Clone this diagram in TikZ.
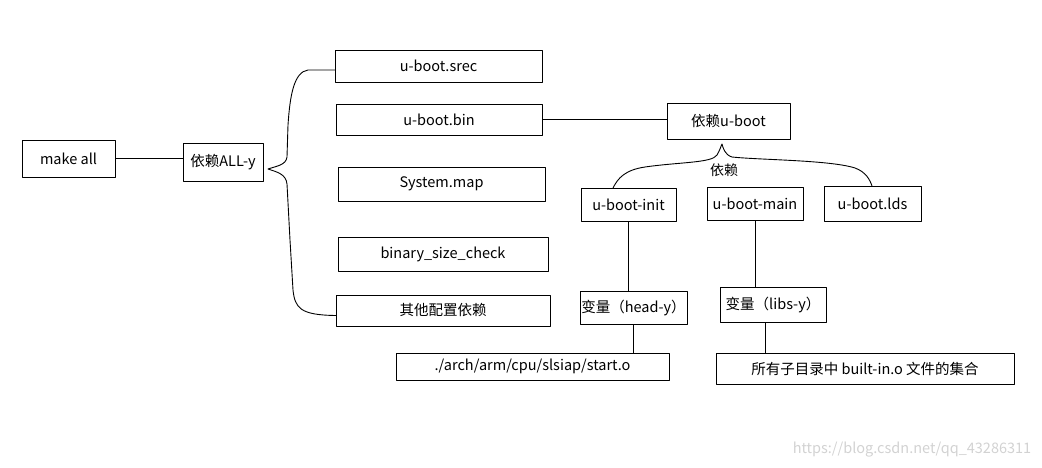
\documentclass[tikz,border=0pt]{standalone}
\usepackage{fontspec}
\setmainfont{Noto Sans CJK SC}
\begin{document}
\begin{tikzpicture}[line cap=round,line join=round,x=1pt,y=-1pt,
		box/.style={draw,line width=.9pt,inner sep=0pt,font=\fontsize{14.5}{17}\selectfont},
		link/.style={line width=.9pt}]
		\useasboundingbox (0,0) rectangle (1042,468);
		\node[box,minimum width=93pt,minimum height=37pt] (make) at (68.5,158.5) {make all};
		\node[box,minimum width=80pt,minimum height=38pt] (ally) at (223,162) {依赖ALL-y};
		\node[box,minimum width=207pt,minimum height=32pt] (srec) at (438.5,66) {u-boot.srec};
		\node[box,minimum width=206pt,minimum height=31pt] (bin) at (439,119.5) {u-boot.bin};
		\node[box,minimum width=207pt,minimum height=34pt] (map) at (441.5,184) {System.map};
		\node[box,minimum width=210pt,minimum height=34pt] (size) at (443,254) {binary\_size\_check};
		\node[box,minimum width=214pt,minimum height=31pt] (other) at (443,310.5) {其他配置依赖};
		\node[box,minimum width=123pt,minimum height=36pt] (dep) at (728.5,121) {依赖u-boot};
		\node[box,minimum width=95pt,minimum height=33pt] (init) at (628.5,204.5) {u-boot-init};
		\node[box,minimum width=96pt,minimum height=33pt] (main) at (755,203.5) {u-boot-main};
		\node[box,minimum width=97pt,minimum height=35pt] (lds) at (872.5,203.5) {u-boot.lds};
		\node[box,minimum width=107pt,minimum height=33pt] (heady) at (633.5,307.5) {变量（head-y）};
		\node[box,minimum width=106pt,minimum height=35pt] (libsy) at (773,304.5) {变量（libs-y）};
		\node[box,minimum width=273pt,minimum height=27pt] (start) at (532.5,366.5) {./arch/arm/cpu/slsiap/start.o};
		\node[box,minimum width=298pt,minimum height=31pt] (objs) at (865,368.5) {所有子目录中 built-in.o 文件的集合};
		\node[font=\fontsize{14}{16}\selectfont] (deplabel) at (724,170) {依赖};
		\node[font=\fontsize{14.5}{17}\selectfont,text=gray!35] (mark) at (912,450) {https://blog.csdn.net/qq\_43286311};
		\coordinate (tipa) at (268,169);
		\coordinate (tipb) at (722,144);
		\draw[link] (make.east) -- (make.east -| ally.west);
		\draw[link] (bin.east) -- (bin.east -| dep.west);
		\draw[link] (init.south) -- (init.south |- heady.north);
		\draw[link] (heady.south) -- (heady.south |- start.north);
		\draw[link] (main.south) -- (main.south |- libsy.north);
		\draw[link] ([xshift=-8pt]libsy.south) -- ([xshift=-8pt]libsy.south |- objs.north);
		\draw[link] ([yshift=-4pt]srec.west) -- (308,70) .. controls (294,72) and (290,95) .. (288,125) -- (287,157) .. controls (286,165) and (277,166) .. (tipa) .. controls (277,172) and (286,174) .. (287,184) -- (290,240) -- (293,290) .. controls (295,308) and (300,315) .. ([yshift=-5pt]other.west);
		\draw[link] (613,188) .. controls (618,178) and (625,170) .. (645,167) .. controls (680,162) and (712,163) .. (717,155) .. controls (720,150) and (721,146) .. (tipb) .. controls (723,148) and (725,155) .. (732,157) .. controls (760,160) and (830,160) .. (855,168) .. controls (866,172) and (870,180) .. (872,186);
	\end{tikzpicture}
\end{document}
